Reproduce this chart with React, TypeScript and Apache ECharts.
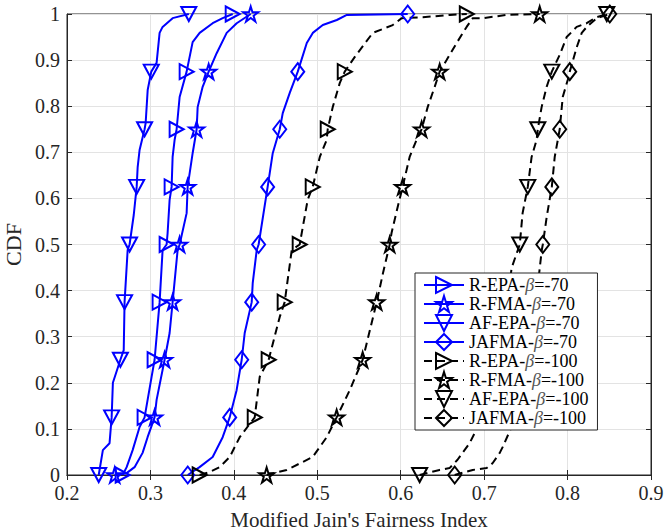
import React, { useEffect, useRef } from "react";
import * as echarts from "echarts";

const markerLevels = [0, 0.125, 0.25, 0.375, 0.5, 0.625, 0.75, 0.875, 1];
const xTickLabels = ["0.2", "0.3", "0.4", "0.5", "0.6", "0.7", "0.8", "0.9"];
const yTickLabels = ["0", "0.1", "0.2", "0.3", "0.4", "0.5", "0.6", "0.7", "0.8", "0.9", "1"];

const seriesNames = [
  "R-EPA-β=-70",
  "R-FMA-β=-70",
  "AF-EPA-β=-70",
  "JAFMA-β=-70",
  "R-EPA-β=-100",
  "R-FMA-β=-100",
  "AF-EPA-β=-100",
  "JAFMA-β=-100",
];

// marker x positions at the CDF levels in markerLevels
const rEpa70Markers = [0.2667, 0.293, 0.305, 0.311, 0.3194, 0.3254, 0.3314, 0.3434, 0.3986];
const rEpa70Curve = [[0.2715, 0.017], [0.2787, 0.054], [0.287, 0.104], [0.3014, 0.213], [0.3146, 0.488], [0.3206, 0.525], [0.323, 0.597], [0.3266, 0.69], [0.329, 0.727], [0.335, 0.82], [0.3506, 0.939], [0.359, 0.959], [0.3746, 0.98], [0.3866, 0.991]];

const rFma70Markers = [0.2572, 0.305, 0.317, 0.3266, 0.335, 0.3446, 0.3554, 0.3698, 0.4202];
const rFma70Curve = [[0.2714, 0.004], [0.281, 0.017], [0.2906, 0.048], [0.2966, 0.082], [0.3074, 0.163], [0.323, 0.308], [0.3326, 0.488], [0.3434, 0.568], [0.3506, 0.698], [0.3566, 0.798], [0.3626, 0.842], [0.3794, 0.915], [0.3914, 0.959], [0.4034, 0.98]];

const afEpa70Markers = [0.238, 0.2535, 0.264, 0.269, 0.275, 0.2835, 0.293, 0.301, 0.346];
const afEpa70Curve = [[0.243, 0.054], [0.251, 0.069], [0.255, 0.2], [0.268, 0.271], [0.2727, 0.488], [0.28, 0.564], [0.2847, 0.668], [0.287, 0.705], [0.2943, 0.764], [0.2967, 0.835], [0.3074, 0.894], [0.311, 0.959], [0.3146, 0.972], [0.3266, 0.991]];

const jafma70Markers = [0.3447, 0.395, 0.4094, 0.4214, 0.4297, 0.4405, 0.455, 0.4766, 0.6084];
const jafma70Curve = [[0.3589, 0.017], [0.3746, 0.039], [0.3866, 0.082], [0.4033, 0.184], [0.413, 0.308], [0.4226, 0.416], [0.4274, 0.488], [0.443, 0.655], [0.4466, 0.698], [0.4586, 0.785], [0.467, 0.829], [0.4874, 0.937], [0.4946, 0.959], [0.5066, 0.976], [0.5234, 0.987], [0.5354, 0.998]];

const rEpa100Markers = [0.359, 0.425, 0.4417, 0.4609, 0.4789, 0.4945, 0.5125, 0.5329, 0.6792];
const rEpa100Curve = [[0.371, 0.0065], [0.383, 0.017], [0.395, 0.039], [0.407, 0.082], [0.431, 0.213], [0.455, 0.343], [0.4694, 0.488], [0.4885, 0.597], [0.503, 0.69], [0.5113, 0.727], [0.5185, 0.798], [0.5269, 0.85], [0.545, 0.907], [0.5665, 0.959], [0.5904, 0.976], [0.6012, 0.991], [0.6264, 0.993], [0.6588, 0.998]];

const rFma100Markers = [0.4393, 0.5232, 0.5544, 0.5712, 0.5868, 0.6023, 0.6251, 0.6467, 0.7666];
const rFma100Curve = [[0.4633, 0.011], [0.4945, 0.039], [0.5113, 0.082], [0.5389, 0.184], [0.579, 0.44], [0.589, 0.525], [0.5963, 0.581], [0.6107, 0.69], [0.619, 0.727], [0.6323, 0.798], [0.6407, 0.842], [0.655, 0.9], [0.667, 0.937], [0.679, 0.972], [0.6864, 0.991], [0.6984, 0.991], [0.7272, 0.998]];

const afEpa100Markers = [0.6227, 0.698, 0.714, 0.728, 0.7427, 0.7523, 0.7643, 0.7811, 0.847];
const afEpa100Curve = [[0.6465, 0.011], [0.6585, 0.015], [0.6681, 0.033], [0.6765, 0.054], [0.6826, 0.069], [0.7329, 0.449], [0.7461, 0.568], [0.7569, 0.69], [0.7629, 0.727], [0.7689, 0.798], [0.7749, 0.842], [0.7905, 0.911], [0.7989, 0.95], [0.8109, 0.972], [0.8229, 0.98], [0.8349, 0.993]];

const jafma100Markers = [0.6647, 0.738, 0.752, 0.762, 0.7703, 0.7811, 0.7906, 0.8026, 0.8506];
const jafma100Curve = [[0.6863, 0.011], [0.7031, 0.015], [0.7103, 0.026], [0.7187, 0.048], [0.7223, 0.061], [0.7691, 0.488], [0.775, 0.56], [0.7846, 0.69], [0.7942, 0.82], [0.8002, 0.857], [0.811, 0.928], [0.817, 0.959], [0.823, 0.972], [0.835, 0.991]];

const FONT = "Liberation Serif";
const AXIS_COLOR = "#262626";

function starPath(): string {
  const pts: string[] = [];
  for (let k = 0; k < 10; k++) {
    const a = -Math.PI / 2 + (k * Math.PI) / 5;
    const r = k % 2 === 0 ? 10 : 3.82;
    pts.push(`${(r * Math.cos(a)).toFixed(3)},${(r * Math.sin(a)).toFixed(3)}`);
  }
  return "path://M" + pts.join("L") + "Z";
}

const SYM_RIGHT = "path://M0,0L10,5L0,10Z";
const SYM_DOWN = "path://M0,0L10,0L5,10Z";
const SYM_STAR = starPath();
const SYM_DIAMOND = "diamond";

function buildData(curve: number[][], markers: number[]) {
  const pts: any[] = [
    ...curve.map(([x, y]) => ({ value: [x, y], symbol: "none" })),
    ...markers.map((x, i) => ({ value: [x, markerLevels[i]] })),
  ];
  pts.sort((a, b) => a.value[1] - b.value[1] || a.value[0] - b.value[0]);
  return pts;
}

export default function App() {
  const ref = useRef<HTMLDivElement>(null);
  useEffect(() => {
    if (!ref.current) return;
    const chart = echarts.init(ref.current, undefined, { renderer: "svg" });

    const defs = [
      { curve: rEpa70Curve, markers: rEpa70Markers, color: "#0000ff", dashed: false, symbol: SYM_RIGHT, size: [14, 15] },
      { curve: rFma70Curve, markers: rFma70Markers, color: "#0000ff", dashed: false, symbol: SYM_STAR, size: [15, 15] },
      { curve: afEpa70Curve, markers: afEpa70Markers, color: "#0000ff", dashed: false, symbol: SYM_DOWN, size: [15, 14] },
      { curve: jafma70Curve, markers: jafma70Markers, color: "#0000ff", dashed: false, symbol: SYM_DIAMOND, size: [13, 17] },
      { curve: rEpa100Curve, markers: rEpa100Markers, color: "#000000", dashed: true, symbol: SYM_RIGHT, size: [14, 15] },
      { curve: rFma100Curve, markers: rFma100Markers, color: "#000000", dashed: true, symbol: SYM_STAR, size: [15, 15] },
      { curve: afEpa100Curve, markers: afEpa100Markers, color: "#000000", dashed: true, symbol: SYM_DOWN, size: [15, 14] },
      { curve: jafma100Curve, markers: jafma100Markers, color: "#000000", dashed: true, symbol: SYM_DIAMOND, size: [13, 17] },
    ];

    const series = defs.map((d, i) => ({
      type: "line",
      name: seriesNames[i],
      xAxisIndex: 0,
      yAxisIndex: 0,
      data: buildData(d.curve, d.markers),
      symbol: d.symbol,
      symbolSize: d.size,
      showSymbol: true,
      showAllSymbol: true,
      clip: false,
      lineStyle: { color: d.color, width: 2, type: d.dashed ? [8, 5] : "solid" },
      itemStyle: { color: "rgba(0,0,0,0)", borderColor: d.color, borderWidth: 2 },
      emphasis: { disabled: true },
    }));

    const axisCommon = {
      type: "value",
      axisLine: { show: true, lineStyle: { color: AXIS_COLOR, width: 1 } },
      axisTick: { show: true, inside: true, length: 5, lineStyle: { color: AXIS_COLOR } },
    };

    chart.setOption({
      animation: false,
      grid: {
        left: 67,
        right: 14,
        top: 14,
        bottom: 57,
        containLabel: false,
        outerBoundsMode: "none",
        show: true,
        borderColor: AXIS_COLOR,
        borderWidth: 1,
        backgroundColor: "#fff",
      },
      legend: {
        orient: "vertical",
        left: 415,
        top: 273,
        padding: [3, 9, 3, 8],
        itemWidth: 40,
        itemHeight: 20,
        itemGap: 1,
        backgroundColor: "#fff",
        borderColor: AXIS_COLOR,
        borderWidth: 1,
        borderRadius: 0,
        data: seriesNames,
        itemStyle: { borderWidth: 2 },
        formatter: (name: string) => name.replace("β", "{b|β}"),
        textStyle: {
          fontFamily: FONT,
          fontSize: 18,
          color: "#000",
          rich: { b: { fontFamily: FONT, fontSize: 18, fontStyle: "italic", color: "#555" } },
        },
      },
      xAxis: [
        {
          ...axisCommon,
          position: "bottom",
          min: 0.2,
          max: 0.9,
          interval: 0.1,
          name: "Modified Jain's Fairness Index",
          nameLocation: "middle",
          nameGap: 34,
          nameTextStyle: { fontFamily: FONT, fontSize: 21, color: AXIS_COLOR, lineHeight: 22 },
          axisLabel: {
            margin: 8,
            fontFamily: FONT,
            fontSize: 20,
            color: AXIS_COLOR,
            formatter: (v: number) => xTickLabels[Math.round((v - 0.2) * 10)] ?? "",
          },
          splitLine: { show: true, lineStyle: { color: "#e3e3e3", width: 1 } },
        },
        {
          ...axisCommon,
          position: "top",
          min: 0.2,
          max: 0.9,
          interval: 0.1,
          axisLabel: { show: false },
          splitLine: { show: false },
        },
      ],
      yAxis: [
        {
          ...axisCommon,
          position: "left",
          min: 0,
          max: 1,
          interval: 0.1,
          name: "CDF",
          nameLocation: "middle",
          nameGap: 40,
          nameTextStyle: { fontFamily: FONT, fontSize: 22, color: AXIS_COLOR },
          axisLabel: {
            margin: 7,
            fontFamily: FONT,
            fontSize: 20,
            color: AXIS_COLOR,
            formatter: (v: number) => yTickLabels[Math.round(v * 10)] ?? "",
          },
          splitLine: { show: true, lineStyle: { color: "#e3e3e3", width: 1 } },
        },
        {
          ...axisCommon,
          position: "right",
          min: 0,
          max: 1,
          interval: 0.1,
          axisLabel: { show: false },
          splitLine: { show: false },
        },
      ],
      series,
    });

    return () => chart.dispose();
  }, []);

  return (
    <div
      ref={ref}
      style={{ position: "fixed", left: 0, top: 0, width: 665, height: 532, background: "#fff" }}
    />
  );
}
